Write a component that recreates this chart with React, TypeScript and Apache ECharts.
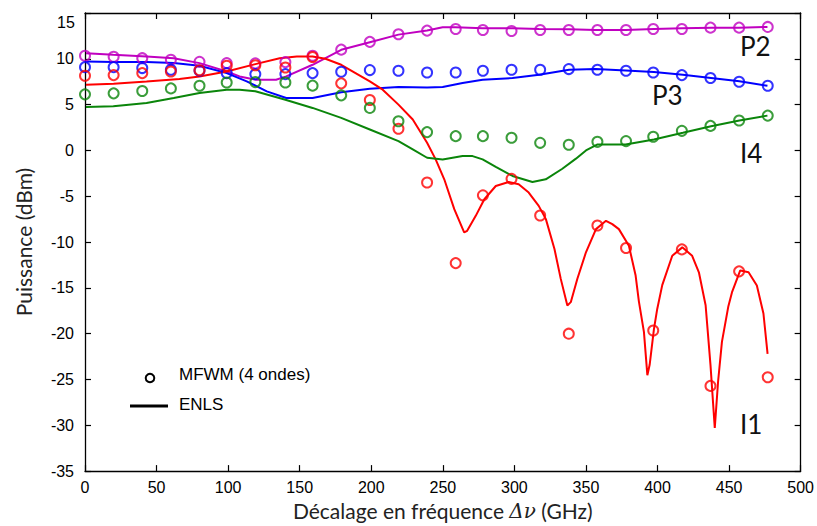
import React, { useEffect, useRef } from "react";
import * as echarts from "echarts";

// Measured points (MFWM, 4 ondes)
const xPoints = [0, 20, 40, 60, 80, 99, 119, 140, 159, 179, 199, 219, 239, 259, 278, 298, 318, 338, 358, 378, 397, 417, 437, 457, 477];
const p2Points = [10.33, 10.22, 10.07, 9.89, 9.67, 9.53, 9.5, 9.64, 10.33, 11.0, 11.85, 12.68, 13.08, 13.26, 13.15, 13.04, 13.15, 13.15, 13.15, 13.15, 13.26, 13.26, 13.4, 13.4, 13.48];
const p3Points = [9.09, 9.09, 8.99, 8.8, 8.7, 8.44, 8.33, 8.33, 8.44, 8.59, 8.77, 8.7, 8.5, 8.51, 8.7, 8.8, 8.8, 8.88, 8.8, 8.7, 8.51, 8.22, 7.9, 7.5, 7.06];
const i1Points = [8.15, 8.22, 8.44, 8.62, 8.75, 9.24, 9.3, 9.05, 10.2, 7.32, 5.5, 2.36, -3.5, -12.3, -4.9, -3.1, -7.1, -20.0, -8.2, -10.65, -19.65, -10.8, -25.7, -13.2, -24.75];
const i4Points = [6.12, 6.23, 6.48, 6.77, 7.06, 7.42, 7.46, 7.42, 7.07, 6.01, 4.64, 3.19, 2.0, 1.56, 1.56, 1.38, 0.83, 0.62, 0.94, 1.02, 1.49, 2.14, 2.68, 3.26, 3.8];

// ENLS curves [x, y]
const p2Line = [[0.7, 10.62], [19.8, 10.43], [43, 10.25], [62, 10.07], [80, 9.53], [99, 8.62], [108, 8.08], [119.5, 7.72], [133.5, 7.72], [140.6, 8.08], [159, 9.35], [179, 10.98], [199, 11.81], [219, 12.64], [239, 13.08], [249.9, 13.44], [258.7, 13.44], [277.8, 13.33], [298.7, 13.33], [317.3, 13.26], [338.2, 13.23], [356.8, 13.15], [377.7, 13.15], [397.5, 13.26], [417.2, 13.33], [438, 13.4], [456.8, 13.4], [476.8, 13.48]];
const p3Line = [[0.7, 9.71], [19.8, 9.64], [43, 9.64], [62, 9.53], [80, 9.24], [99, 8.44], [113, 7.54], [127, 6.45], [140.6, 5.72], [159, 5.72], [179, 6.34], [199, 6.74], [219, 6.92], [239, 6.88], [249.9, 6.92], [263.8, 7.35], [277.8, 7.72], [298.7, 7.9], [317.3, 8.26], [338.2, 8.8], [356.8, 8.88], [377.7, 8.73], [397.5, 8.55], [417.7, 8.26], [437.4, 7.9], [457.2, 7.54], [476.8, 7.06]];
const i1Line = [[0.7, 7.17], [20, 7.28], [43, 7.53], [66, 7.79], [80, 8.08], [99, 8.62], [119, 9.42], [136, 10.07], [148, 10.25], [159, 10.25], [168, 10.0], [179, 9.35], [189, 8.44], [199, 7.53], [208, 6.63], [219, 5.0], [229, 3.37], [239, 0.83], [245, -0.98], [251, -3.15], [258, -6.41], [264.9, -8.95], [267, -8.77], [273, -7.14], [279, -5.33], [287, -3.88], [296, -3.44], [303, -3.7], [310, -4.6], [317, -6.05], [322, -7.5], [328, -10.76], [332.4, -14.02], [337, -16.92], [339.4, -16.56], [344, -14.0], [350, -11.12], [357, -8.59], [364, -7.68], [368.4, -8.04], [373, -8.59], [380, -10.4], [384.7, -13.66], [387, -16.5], [390.5, -19.8], [392.9, -24.53], [394.5, -23.4], [397.5, -19.5], [399.8, -17.3], [403.3, -14.7], [410.3, -11.5], [417.3, -10.58], [424.2, -11.5], [428.9, -13.3], [433.6, -16.9], [437, -23.4], [440, -30.3], [442.3, -25.25], [445, -20.9], [449.5, -17.0], [452, -15.5], [457.8, -13.1], [463.6, -13.3], [469.4, -14.75], [474, -17.8], [476.9, -22.2]];
const i4Line = [[0.7, 4.75], [19.8, 4.82], [43, 5.18], [62, 5.72], [80, 6.27], [99, 6.63], [108, 6.63], [119, 6.45], [140, 5.54], [159, 4.64], [179, 3.55], [199, 2.28], [219, 1.01], [229, 0.11], [239, -0.8], [249.9, -0.98], [263.8, -0.62], [270.8, -0.62], [277.8, -0.98], [287, -1.8], [298.7, -2.79], [312.6, -3.44], [321.9, -3.15], [333.5, -2.0], [343, -0.9], [350, 0.0], [358.1, 0.65], [377.7, 0.65], [397.5, 1.2], [417.7, 1.92], [437.4, 2.64], [457.2, 3.26], [476.8, 3.8]];

const seriesNames = ["P2", "P3", "I1", "I4"];
const seriesColors = ["#c000c0", "#0000ff", "#ff0000", "#0a850a"];
const legendLabels = ["MFWM (4 ondes)", "ENLS"];

const xMin = 0, xMax = 500, xStep = 50;
const yMin = -35, yMax = 15, yStep = 5;

const TITLE_FONT = "Lato, 'Open Sans', sans-serif";
const TICK_FONT = "'Liberation Sans', Arial, sans-serif";

export default function App() {
  const ref = useRef<HTMLDivElement>(null);
  useEffect(() => {
    if (!ref.current) return;
    const chart = echarts.init(ref.current, null, { renderer: "svg" });
    const pointSets = [p2Points, p3Points, i1Points, i4Points];
    const lineSets = [p2Line, p3Line, i1Line, i4Line];
    const series: any[] = [];
    lineSets.forEach((ls, i) => {
      series.push({
        name: seriesNames[i] + " ENLS",
        type: "line",
        data: ls,
        showSymbol: false,
        symbol: "none",
        lineStyle: { color: seriesColors[i], width: 2 },
        z: 2,
      });
    });
    pointSets.forEach((ps, i) => {
      series.push({
        name: seriesNames[i] + " MFWM",
        type: "scatter",
        data: ps.map((v, k) => [xPoints[k], v]),
        symbol: "circle",
        symbolSize: 10,
        itemStyle: { color: "rgba(255,255,255,0)", borderColor: seriesColors[i], borderWidth: 2 },
        z: 3,
      });
    });
    const axisCommon = {
      axisLine: { show: true, onZero: false, lineStyle: { color: "#000", width: 1.3 } },
      axisTick: { show: true, inside: true, length: 6, lineStyle: { color: "#000", width: 1.2 } },
      splitLine: { show: false },
    };
    chart.setOption({
      animation: false,
      backgroundColor: "#fff",
      grid: { left: 85, top: 13, right: 15, bottom: 53, containLabel: false },
      xAxis: [
        {
          type: "value", position: "bottom", min: xMin, max: xMax, interval: xStep,
          ...axisCommon,
          axisLabel: { color: "#000", fontSize: 16, fontFamily: TICK_FONT, margin: 8 },
          name: "{n|Décalage en fréquence }{i|Δν}{n| (GHz)}",
          nameLocation: "middle",
          nameGap: 28,
          nameTextStyle: {
            rich: {
              n: { fontFamily: TITLE_FONT, fontSize: 21, color: "#222" },
              i: { fontFamily: "'DejaVu Serif', serif", fontStyle: "italic", fontSize: 20, color: "#222" },
            },
          },
        },
        {
          type: "value", position: "top", min: xMin, max: xMax, interval: xStep,
          ...axisCommon,
          axisLabel: { show: false },
        },
      ],
      yAxis: [
        {
          type: "value", position: "left", min: yMin, max: yMax, interval: yStep,
          ...axisCommon,
          axisLabel: {
            color: "#000", fontSize: 16, fontFamily: TICK_FONT, margin: 11,
            formatter: (v: number) => (v === yMax ? "" : String(v)),
          },
          name: "Puissance (dBm)",
          nameLocation: "middle",
          nameGap: 51,
          nameTextStyle: { fontFamily: TITLE_FONT, fontSize: 21, color: "#222" },
        },
        {
          type: "value", position: "right", min: yMin, max: yMax, interval: yStep,
          ...axisCommon,
          axisLabel: { show: false },
        },
      ],
      series,
      graphic: [
        { type: "text", left: 57, top: 14, style: { text: String(yMax), fontSize: 16, fontFamily: TICK_FONT, fill: "#000" } },
        { type: "circle", shape: { cx: 150, cy: 378, r: 4.3 }, style: { fill: "none", stroke: "#000", lineWidth: 2 } },
        { type: "text", left: 179, top: 366, style: { text: legendLabels[0], fontSize: 17, fontFamily: TICK_FONT, fill: "#000" } },
        { type: "line", shape: { x1: 130, y1: 406, x2: 168, y2: 406 }, style: { stroke: "#000", lineWidth: 3 } },
        { type: "text", left: 179, top: 396, style: { text: legendLabels[1], fontSize: 17, fontFamily: TICK_FONT, fill: "#000" } },
        { type: "text", left: 740, top: 33, style: { text: seriesNames[0], fontSize: 26, fontFamily: TITLE_FONT, fill: "#111" } },
        { type: "text", left: 652, top: 82, style: { text: seriesNames[1], fontSize: 26, fontFamily: TITLE_FONT, fill: "#111" } },
        { type: "text", left: 740, top: 140, style: { text: seriesNames[3], fontSize: 26, fontFamily: TITLE_FONT, fill: "#111" } },
        { type: "text", left: 740, top: 411, style: { text: seriesNames[2], fontSize: 26, fontFamily: TITLE_FONT, fill: "#111" } },
      ],
    });
    return () => chart.dispose();
  }, []);
  return <div ref={ref} style={{ position: "fixed", left: 0, top: 0, width: 817, height: 526 }} />;
}
